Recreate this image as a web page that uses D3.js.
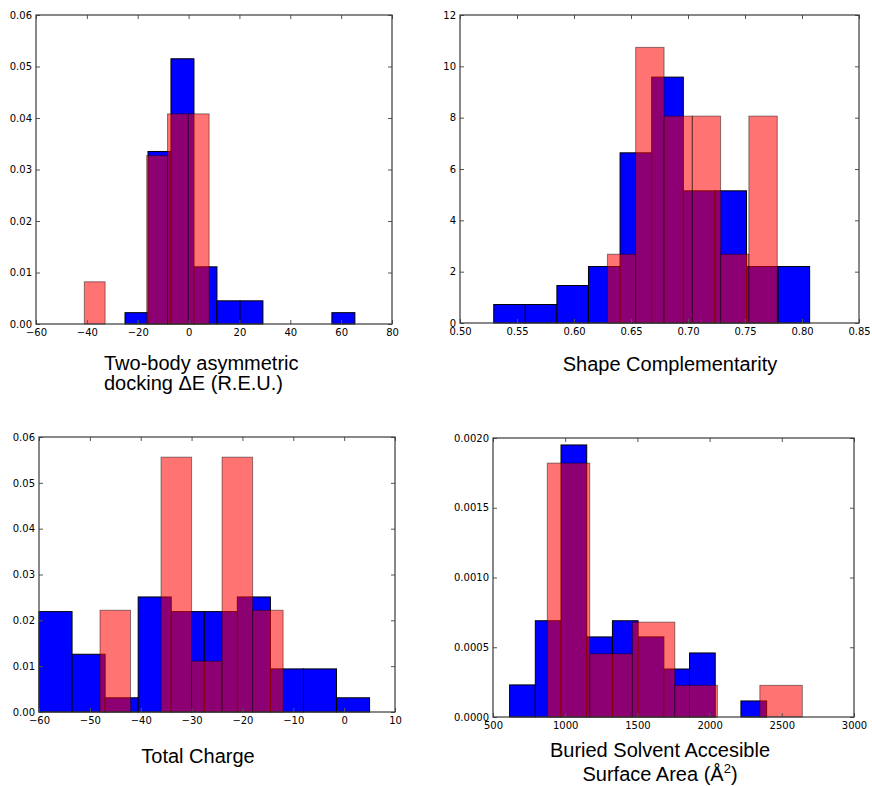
<!DOCTYPE html>
<html>
<head>
<meta charset="utf-8">
<script src="https://cdn.jsdelivr.net/npm/d3@7"></script>
<style>
  body { margin: 0; background: #fff; }
  svg { display: block; }
  .tick text { font-family: "DejaVu Sans", sans-serif; font-size: 10px; fill: #000; }
  .lbl { font-family: "Liberation Sans", Arial, sans-serif; font-size: 20px; fill: #000; }
</style>
</head>
<body>
<svg id="chart" width="872" height="786"></svg>
<script>
// ---- Panel 1: Two-body asymmetric docking dE ----
const p1BlueEdges = [-25.0, -15.96, -6.92, 2.12, 11.16, 20.2, 29.24, 38.28, 47.32, 56.36, 65.4];
const p1BlueValues = [0.0022, 0.0335, 0.0515, 0.0111, 0.0045, 0.0045, 0, 0, 0, 0.0022];
const p1RedEdges = [-41.0, -32.82, -24.64, -16.46, -8.28, -0.1, 8.08];
const p1RedValues = [0.0082, 0, 0, 0.0327, 0.0408, 0.0408];
const p1XTicks = [-60, -40, -20, 0, 20, 40, 60, 80];
const p1YTicks = [0, 0.01, 0.02, 0.03, 0.04, 0.05, 0.06];

// ---- Panel 2: Shape Complementarity ----
const p2BlueEdges = [0.5296, 0.5573, 0.5850, 0.6127, 0.6404, 0.6682, 0.6959, 0.7236, 0.7513, 0.7790, 0.8067];
const p2BlueValues = [0.72, 0.72, 1.46, 2.2, 6.63, 9.58, 5.15, 5.15, 2.2, 2.2];
const p2RedEdges = [0.6293, 0.6541, 0.6790, 0.7038, 0.7286, 0.7534, 0.7783];
const p2RedValues = [2.68, 10.74, 8.06, 8.06, 2.68, 8.06];
const p2XTicks = [0.50, 0.55, 0.60, 0.65, 0.70, 0.75, 0.80, 0.85];
const p2YTicks = [0, 2, 4, 6, 8, 10, 12];

// ---- Panel 3: Total Charge ----
const p3BlueEdges = [-60, -53.5, -47, -40.5, -34, -27.5, -21, -14.5, -8, -1.5, 5];
const p3BlueValues = [0.0219, 0.0126, 0.0031, 0.0251, 0.0219, 0.0219, 0.0251, 0.0094, 0.0094, 0.0031];
const p3RedEdges = [-48, -42, -36, -30, -24, -18, -12];
const p3RedValues = [0.0222, 0, 0.0556, 0.0111, 0.0556, 0.0222];
const p3XTicks = [-60, -50, -40, -30, -20, -10, 0, 10];
const p3YTicks = [0, 0.01, 0.02, 0.03, 0.04, 0.05, 0.06];

// ---- Panel 4: Buried Solvent Accessible Surface Area ----
const p4BlueEdges = [615, 793, 971, 1149, 1327, 1505, 1683, 1861, 2039, 2217, 2395];
const p4BlueValues = [0.00023, 0.00069, 0.00195, 0.000574, 0.00069, 0.000574, 0.000344, 0.000459, 0, 0.000115];
const p4RedEdges = [876, 1170, 1465, 1759, 2054, 2348, 2642];
const p4RedValues = [0.00182, 0.000453, 0.00068, 0.000227, 0, 0.000227];
const p4XTicks = [500, 1000, 1500, 2000, 2500, 3000];
const p4YTicks = [0, 0.0005, 0.0010, 0.0015, 0.0020];

const svg = d3.select("#chart");
const minus = s => s.replace(/-/g, "\u2212");

function drawPanel(cfg) {
  const g = svg.append("g");
  const x = d3.scaleLinear().domain(cfg.xDomain).range([cfg.L, cfg.R]);
  const y = d3.scaleLinear().domain(cfg.yDomain).range([cfg.B, cfg.T]);

  const bins = (edges, vals) => vals.map((v, i) => ({x0: edges[i], x1: edges[i + 1], v}));

  g.append("g").selectAll("rect").data(bins(cfg.blueEdges, cfg.blueValues).filter(d => d.v > 0))
    .join("rect")
    .attr("x", d => x(d.x0)).attr("width", d => x(d.x1) - x(d.x0))
    .attr("y", d => y(d.v)).attr("height", d => y(0) - y(d.v))
    .attr("fill", "#0000ff").attr("stroke", "#000").attr("stroke-width", 1);

  g.append("g").selectAll("rect").data(bins(cfg.redEdges, cfg.redValues).filter(d => d.v > 0))
    .join("rect")
    .attr("x", d => x(d.x0)).attr("width", d => x(d.x1) - x(d.x0))
    .attr("y", d => y(d.v)).attr("height", d => y(0) - y(d.v))
    .attr("fill", "#ff0000").attr("fill-opacity", 0.55)
    .attr("stroke", "#000").attr("stroke-opacity", 0.45).attr("stroke-width", 1);

  const fmtX = v => minus(d3.format(cfg.xFmt)(v));
  const fmtY = v => d3.format(cfg.yFmt)(v);

  // axes with inward ticks on all four sides
  const ax = g.append("g").attr("transform", `translate(0,${cfg.B})`)
    .call(d3.axisBottom(x).tickValues(cfg.xTicks).tickFormat(fmtX).tickSize(-4).tickPadding(5));
  const axT = g.append("g").attr("transform", `translate(0,${cfg.T})`)
    .call(d3.axisTop(x).tickValues(cfg.xTicks).tickSize(-4));
  const ay = g.append("g").attr("transform", `translate(${cfg.L},0)`)
    .call(d3.axisLeft(y).tickValues(cfg.yTicks).tickFormat(fmtY).tickSize(-4).tickPadding(4));
  const ayR = g.append("g").attr("transform", `translate(${cfg.R},0)`)
    .call(d3.axisRight(y).tickValues(cfg.yTicks).tickSize(-4));
  axT.selectAll(".tick text").remove();
  ayR.selectAll(".tick text").remove();
  [ax, axT, ay, ayR].forEach(a => {
    a.select(".domain").remove();
    a.selectAll(".tick line").attr("stroke", "#555");
  });

  g.append("rect").attr("x", cfg.L).attr("y", cfg.T)
    .attr("width", cfg.R - cfg.L).attr("height", cfg.B - cfg.T)
    .attr("fill", "none").attr("stroke", "#3a3a3a").attr("stroke-width", 1.2);

  cfg.label.forEach((line, i) => {
    const t = g.append("text").attr("class", "lbl").attr("text-anchor", cfg.anchor)
      .attr("x", cfg.lx).attr("y", cfg.ly + i * cfg.lh);
    if (typeof line === "string") {
      t.text(line);
    } else {
      t.append("tspan").text(line.text);
      t.append("tspan").attr("font-size", "13px").attr("dy", "-8").text(line.sup);
      t.append("tspan").attr("dy", "8").text(line.after);
    }
  });
}

drawPanel({L: 36, R: 392, T: 15, B: 324, xDomain: [-60, 80], yDomain: [0, 0.06],
  blueEdges: p1BlueEdges, blueValues: p1BlueValues, redEdges: p1RedEdges, redValues: p1RedValues,
  xTicks: p1XTicks, yTicks: p1YTicks, xFmt: "d", yFmt: ".2f",
  label: ["Two-body asymmetric", "docking \u0394E (R.E.U.)"], anchor: "start", lx: 104, ly: 370, lh: 20});

drawPanel({L: 460, R: 859, T: 15, B: 323, xDomain: [0.5, 0.85], yDomain: [0, 12],
  blueEdges: p2BlueEdges, blueValues: p2BlueValues, redEdges: p2RedEdges, redValues: p2RedValues,
  xTicks: p2XTicks, yTicks: p2YTicks, xFmt: ".2f", yFmt: "d",
  label: ["Shape Complementarity"], anchor: "middle", lx: 670, ly: 371, lh: 20});

drawPanel({L: 39, R: 395, T: 437, B: 712, xDomain: [-60, 10], yDomain: [0, 0.06],
  blueEdges: p3BlueEdges, blueValues: p3BlueValues, redEdges: p3RedEdges, redValues: p3RedValues,
  xTicks: p3XTicks, yTicks: p3YTicks, xFmt: "d", yFmt: ".2f",
  label: ["Total Charge"], anchor: "middle", lx: 198, ly: 763, lh: 20});

drawPanel({L: 493, R: 854, T: 438, B: 717, xDomain: [500, 3000], yDomain: [0, 0.002],
  blueEdges: p4BlueEdges, blueValues: p4BlueValues, redEdges: p4RedEdges, redValues: p4RedValues,
  xTicks: p4XTicks, yTicks: p4YTicks, xFmt: "d", yFmt: ".4f",
  label: ["Buried Solvent Accesible", {text: "Surface Area (\u00c5", sup: "2", after: ")"}],
  anchor: "middle", lx: 660, ly: 757, lh: 24});
</script>
</body>
</html>
